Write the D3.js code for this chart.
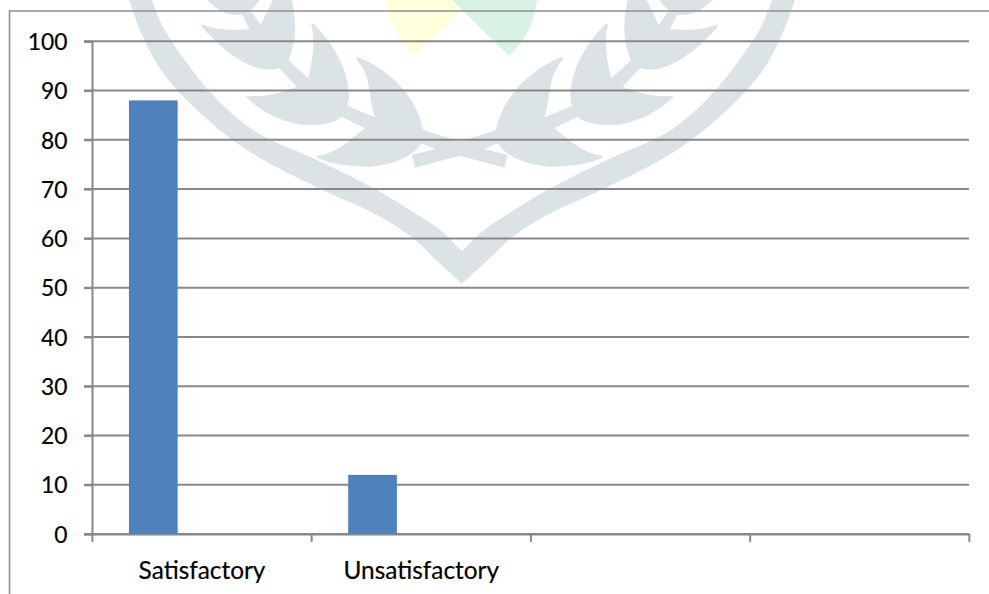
<!DOCTYPE html>
<html>
<head>
<meta charset="utf-8">
<script src="https://cdn.jsdelivr.net/npm/d3@7"></script>
<style>
html,body{margin:0;padding:0;background:#fff;overflow:hidden}
svg{display:block}
text{font-family:Lato,"Open Sans",sans-serif;fill:#000;stroke:#000;stroke-width:0.2px}
</style>
</head>
<body>
<svg id="chart" width="989" height="594"></svg>
<script>
// Chart values
const categories = ["Satisfactory", "Unsatisfactory", " ", "  "];
const seriesNames = ["Series 1", "Series 2", "Series 3"];
const values = [88, 12];
const yTicks = [0, 10, 20, 30, 40, 50, 60, 70, 80, 90, 100];

const grey = "#888888";
const svg = d3.select("#chart");

const y = d3.scaleLinear().domain([0, 100]).range([534, 41.3]);
const x = d3.scaleBand().domain(categories).range([92.4, 969.4]);
const xInner = d3.scaleBand().domain(seriesNames).range([0, x.bandwidth()]).paddingInner(0).paddingOuter(0.75);

// Page letterhead emblem sitting behind the plot
const emblem = svg.append("g");
emblem.append("path").attr("fill", "#ffffdc")
  .attr("d", "M385,0 C388,20 398,38 413,56 L462,12 L452,0 Z");
emblem.append("path").attr("fill", "#d6f1e5").attr("fill-opacity", 0.95)
  .attr("d", "M452,0 L509,56 C524,42 535,22 537,0 Z");

const edge = d3.line().curve(d3.curveCatmullRom);
const outerEdge = [[129,0],[143,37],[163,73],[197,110],[237,143],[267,162],[327,192],[377,215],[413,238],[433,257],[462.5,284]];
const innerEdge = [[152,0],[163,27],[187,63],[213,95],[253,130],[317,160],[377,190],[413,212],[440,230],[462.5,252]];
const bandLeft = edge(outerEdge) + "L" + edge(innerEdge.slice().reverse()).slice(1) + "Z";
const bandRight = edge(outerEdge.map(([a,b]) => [924 - a, b])) + "L" +
  edge(innerEdge.slice().reverse().map(([a,b]) => [924 - a, b])).slice(1) + "Z";
emblem.append("path").attr("fill", "#dce3e7").attr("d", bandLeft);
emblem.append("path").attr("fill", "#dce3e7").attr("d", bandRight);

const sprig = "M1025,427 L910,390 C890,280 790,200 715,172 C708,170 708,176 712,182 C755,230 745,290 765,352 " +
  "L682,318 C688,300 688,285 685,265 C680,190 620,110 582,72 C574,66 574,72 575,80 C585,120 580,170 565,235 " +
  "L505,180 C530,130 530,60 515,0 L458,0 L422,75 L395,35 L365,40 L388,88 C340,90 290,92 252,74 C245,72 245,78 248,84 " +
  "C300,140 360,195 430,208 C450,210 465,208 478,205 L530,260 C480,280 430,292 385,287 C376,288 378,292 384,296 " +
  "C430,340 500,375 570,375 C620,375 650,365 665,350 L735,385 C690,420 650,460 598,466 C588,468 592,474 600,477 " +
  "C640,495 700,500 750,500 C820,495 880,470 905,430 L945,447 L875,465 L885,503 L1025,466 Z " +
  "M262,0 C290,30 320,45 350,45 C370,45 390,40 420,0 Z";
emblem.append("path").attr("fill", "#dce3e7").attr("d", sprig)
  .attr("transform", "translate(120,0) scale(0.33333)");
emblem.append("path").attr("fill", "#dce3e7").attr("d", sprig)
  .attr("transform", "translate(799.4,0) scale(-0.33333,0.33333)");

// Outer chart frame, open on the right and bottom
svg.append("path").attr("fill", "none").attr("stroke", "#8f8f8f").attr("stroke-width", 1.6)
  .attr("d", "M9.5,594 V11 H989");

// Horizontal gridlines
svg.append("g").selectAll("line").data(yTicks).join("line")
  .attr("x1", 84).attr("x2", 969)
  .attr("y1", d => y(d)).attr("y2", d => y(d))
  .attr("stroke", grey).attr("stroke-width", 2);

// Bars: only the first of three series slots holds values
svg.append("g").selectAll("rect").data(values).join("rect")
  .attr("x", (d, i) => x(categories[i]) + xInner(seriesNames[0]))
  .attr("width", xInner.bandwidth())
  .attr("y", d => y(d))
  .attr("height", d => y(0) - y(d))
  .attr("fill", "#4f81bd");

// Value axis
const yAxis = svg.append("g").attr("transform", "translate(92,0)")
  .call(d3.axisLeft(y).tickValues(yTicks).tickSize(8).tickPadding(16.5));
yAxis.selectAll("text").style("font-size", "22.8px").attr("dy", "0.36em");
yAxis.selectAll(".domain,.tick line").attr("stroke", grey).attr("stroke-width", 2);

// Category axis with ticks on the band boundaries
const xAxis = svg.append("g").attr("transform", "translate(0,534)")
  .call(d3.axisBottom(x).tickSize(0).tickPadding(27.5));
xAxis.select(".domain").attr("stroke", grey).attr("stroke-width", 2);
xAxis.selectAll("text").style("font-size", "24.4px");
const boundaries = categories.map(c => x(c)).concat(x.range()[1]);
xAxis.append("g").selectAll("line").data(boundaries).join("line")
  .attr("x1", d => d).attr("x2", d => d).attr("y1", 0).attr("y2", 8)
  .attr("stroke", grey).attr("stroke-width", 2);
</script>
</body>
</html>
